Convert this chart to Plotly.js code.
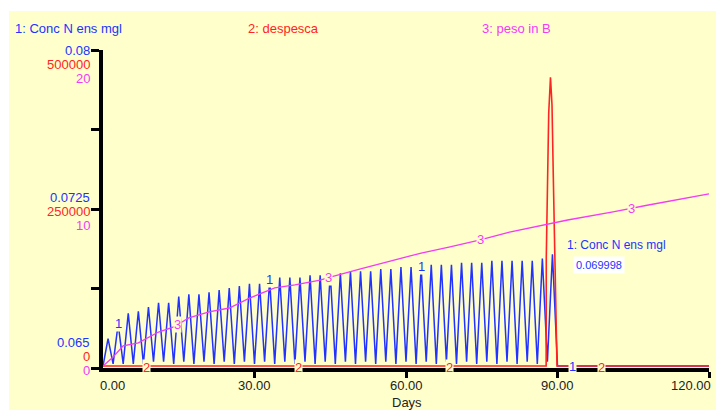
<!DOCTYPE html>
<html>
<head>
<meta charset="utf-8">
<script src="https://cdn.plot.ly/plotly-3.0.1.min.js"></script>
<style>
    body { margin: 0; background: #fff; }
    #stella-graph { position: absolute; left: 9px; top: 11px; width: 707px; height: 399px; }
</style>
</head>
<body>
<div id="stella-graph"></div>
<script>
// 1: Conc N ens mgl, one value per day from day 0 to day 90, then flat
const concN = [
    0.0650, 0.0663, 0.0651, 0.0670, 0.0651, 0.0675, 0.0651, 0.0676, 0.0651, 0.0678,
    0.0652, 0.0680, 0.0652, 0.0680, 0.0651, 0.0683, 0.0652, 0.0684, 0.0651, 0.0684,
    0.0652, 0.0685, 0.0651, 0.0686, 0.0652, 0.0687, 0.0651, 0.0688, 0.0652, 0.0689,
    0.0651, 0.0689, 0.0652, 0.0691, 0.0651, 0.0692, 0.0652, 0.0692, 0.0651, 0.0692,
    0.0652, 0.0693, 0.0651, 0.0693, 0.0652, 0.0694, 0.0651, 0.0694, 0.0652, 0.0695,
    0.0651, 0.0695, 0.0652, 0.0695, 0.0651, 0.0696, 0.0652, 0.0696, 0.0651, 0.0697,
    0.0652, 0.0697, 0.0651, 0.0697, 0.0652, 0.0698, 0.0651, 0.0698, 0.0652, 0.0698,
    0.0651, 0.0699, 0.0652, 0.0699, 0.0651, 0.0699, 0.0652, 0.0700, 0.0651, 0.0700,
    0.0652, 0.0700, 0.0651, 0.0700, 0.0652, 0.0700, 0.0651, 0.0701, 0.0652, 0.0703,
    0.0650
];
const concNTailDays = [91, 120];
const concNTail = [0.0650, 0.0650];

// 2: despesca (harvest spike near day 88)
const despescaDays = [0, 87.75, 87.78, 88.06, 88.26, 88.61, 88.91, 89.17, 89.50, 89.90, 120];
const despesca = [0, 0, 172000, 283000, 400000, 457000, 413000, 299000, 172000, 0, 0];

// 3: peso in B
const pesoDays = [0, 2, 4, 7, 11, 14, 17, 21, 25, 29, 34, 38, 43, 45, 51, 57, 63, 68.5, 74.5, 80.5, 87, 92, 101, 108, 120];
const peso = [0, 0.57, 1.27, 1.46, 2.15, 2.47, 3.04, 3.42, 3.67, 4.30, 4.94, 5.13, 5.44, 5.63,
    6.14, 6.65, 7.15, 7.53, 7.97, 8.48, 8.92, 9.24, 9.75, 10.19, 10.89];

// Axis scales and tick labels
const xTicks = [0, 30, 60, 90, 120];
const xTickText = ['0.00', '30.00', '60.00', '90.00', '120.00'];
const concNScale = [0.065, 0.08];
const despescaScale = [0, 500000];
const pesoScale = [0, 20];
const concNTickText = ['0.065', '0.0725', '0.08'];
const despescaTickText = ['0', '250000', '500000'];
const pesoTickText = ['0', '10', '20'];

// Labels along the lines
const concNLabelDays = [3, 33, 63, 93];
const despescaLabelDays = [8.7, 38.7, 68.7, 98.7];
const pesoLabelDays = [14.7, 44.7, 74.7, 104.7];
const cursorValue = '0.069998';

const BLUE = '#2233ff';
const RED = '#ff2424';
const MAGENTA = '#f53af5';
const BG = '#ffffcc';
const FONT = 'Liberation Sans, Arial, sans-serif';

function interp(xs, ys, x) {
    for (let i = 1; i < xs.length; i++) {
        if (x <= xs[i]) {
            let t = (x - xs[i - 1]) / (xs[i] - xs[i - 1]);
            return ys[i - 1] + t * (ys[i] - ys[i - 1]);
        }
    }
    return ys[ys.length - 1];
}

function createStellaGraph() {
    let concNDays = [];
    let concNValues = [];
    for (let i in concN) {
        concNDays.push(Number(i));
        concNValues.push(concN[i]);
    }
    for (let i in concNTail) {
        concNDays.push(concNTailDays[i]);
        concNValues.push(concNTail[i]);
    }

    let conc = {
        x: concNDays,
        y: concNValues,
        type: 'scatter',
        mode: 'lines',
        line: { color: BLUE, width: 1.5 },
        hoverinfo: 'skip'
    }

    let desp = {
        x: despescaDays,
        y: despesca,
        type: 'scatter',
        mode: 'lines',
        yaxis: 'y2',
        line: { color: RED, width: 1.6 },
        hoverinfo: 'skip'
    }

    let pesoTrace = {
        x: pesoDays,
        y: peso,
        type: 'scatter',
        mode: 'lines',
        yaxis: 'y3',
        line: { color: MAGENTA, width: 1.3 },
        hoverinfo: 'skip'
    }

    // the plot bottom sits 2px under the zero so the baseline is not clipped
    let padFrac = 2 / 316;
    function padded(scale) {
        return [scale[0] - (scale[1] - scale[0]) * padFrac, scale[1]];
    }
    let concRange = padded(concNScale);
    let yTickVals = [];
    for (let k = 0; k <= 4; k++) {
        yTickVals.push(concRange[0] + k / 4 * (concRange[1] - concRange[0]));
    }

    let annotations = [];

    // x tick labels
    for (let i in xTicks) {
        let anchor = 'center';
        let shift = 0;
        if (i == 0) { anchor = 'left'; shift = -5; }
        if (i == xTicks.length - 1) { anchor = 'right'; shift = 4; }
        annotations.push({
            text: xTickText[i], x: xTicks[i], xref: 'x', y: -0.055, yref: 'paper',
            xanchor: anchor, yanchor: 'middle', xshift: shift, showarrow: false,
            font: { family: FONT, size: 13, color: '#222' }
        });
    }

    // stacked y tick labels, three scales on one axis
    let yLabelShifts = [[26, 12, -2], [12, -2, -16], [0, -14, -28]];
    for (let k = 0; k < 3; k++) {
        let stack = [
            [concNTickText[k], BLUE],
            [despescaTickText[k], RED],
            [pesoTickText[k], MAGENTA]
        ];
        for (let j = 0; j < 3; j++) {
            annotations.push({
                text: stack[j][0], x: -0.018, xref: 'paper',
                y: yTickVals[k * 2], yref: 'y',
                xanchor: 'right', yanchor: 'middle', yshift: yLabelShifts[k][j], showarrow: false,
                font: { family: FONT, size: 13, color: stack[j][1] }
            });
        }
    }

    // series legend along the top
    let headers = [['1: Conc N ens mgl', BLUE, -0.1485], ['2: despesca', RED, 0.236], ['3: peso in B', MAGENTA, 0.622]];
    for (let h of headers) {
        annotations.push({
            text: h[0], x: h[2], xref: 'paper', y: 1.069, yref: 'paper',
            xanchor: 'left', yanchor: 'middle', showarrow: false,
            font: { family: FONT, size: 13, color: h[1] }
        });
    }

    // numbers on the lines
    for (let d of concNLabelDays) {
        let v = d < concN.length ? concN[d] : concNTail[0];
        annotations.push({
            text: '1', x: d, y: v, yref: 'y', showarrow: false, bgcolor: BG, borderpad: 0,
            font: { family: FONT, size: 13, color: BLUE }
        });
    }
    for (let d of despescaLabelDays) {
        annotations.push({
            text: '2', x: d, y: interp(despescaDays, despesca, d), yref: 'y2', yshift: -1,
            showarrow: false, bgcolor: BG, borderpad: 0,
            font: { family: FONT, size: 13, color: RED }
        });
    }
    for (let d of pesoLabelDays) {
        annotations.push({
            text: '3', x: d, y: interp(pesoDays, peso, d), yref: 'y3', showarrow: false,
            bgcolor: BG, borderpad: 0,
            font: { family: FONT, size: 13, color: MAGENTA }
        });
    }

    // cursor readout
    annotations.push({
        text: '1: Conc N ens mgl', x: 0.762, xref: 'paper', y: 0.387, yref: 'paper',
        xanchor: 'left', yanchor: 'middle', showarrow: false,
        font: { family: FONT, size: 12, color: BLUE }
    });
    annotations.push({
        text: cursorValue, x: 0.818, xref: 'paper', y: 0.324, yref: 'paper',
        xanchor: 'center', yanchor: 'middle', showarrow: false, bgcolor: '#fff', borderpad: 2,
        font: { family: FONT, size: 11, color: BLUE }
    });

    // axis title
    annotations.push({
        text: 'Days', x: 0.502, xref: 'paper', y: -0.11, yref: 'paper',
        xanchor: 'center', yanchor: 'middle', showarrow: false,
        font: { family: FONT, size: 13, color: '#222' }
    });

    let layout = {
        showlegend: false,
        paper_bgcolor: BG,
        plot_bgcolor: BG,
        xaxis: {
            range: [0, 120],
            tickvals: xTicks.slice(1),
            showticklabels: false,
            ticks: 'outside',
            ticklen: 6,
            tickwidth: 3,
            tickcolor: '#000',
            showline: true,
            linewidth: 4,
            linecolor: '#000',
            showgrid: false,
            zeroline: false
        },
        yaxis: {
            range: concRange,
            tickvals: yTickVals,
            showticklabels: false,
            ticks: 'outside',
            ticklen: 8,
            tickwidth: 3,
            tickcolor: '#000',
            showline: true,
            linewidth: 4,
            linecolor: '#000',
            showgrid: false,
            zeroline: false
        },
        yaxis2: {
            range: padded(despescaScale),
            overlaying: 'y',
            showgrid: false,
            zeroline: false,
            showline: false,
            showticklabels: false
        },
        yaxis3: {
            range: padded(pesoScale),
            overlaying: 'y',
            showgrid: false,
            zeroline: false,
            showline: false,
            showticklabels: false
        },
        annotations: annotations,
        margin: { l: 94, r: 7, t: 39, b: 42 }
    }

    let config = {
        displayModeBar: false,
        staticPlot: true
    }

    Plotly.newPlot(document.getElementById('stella-graph'), [conc, desp, pesoTrace], layout, config);
}

createStellaGraph();
</script>
</body>
</html>
